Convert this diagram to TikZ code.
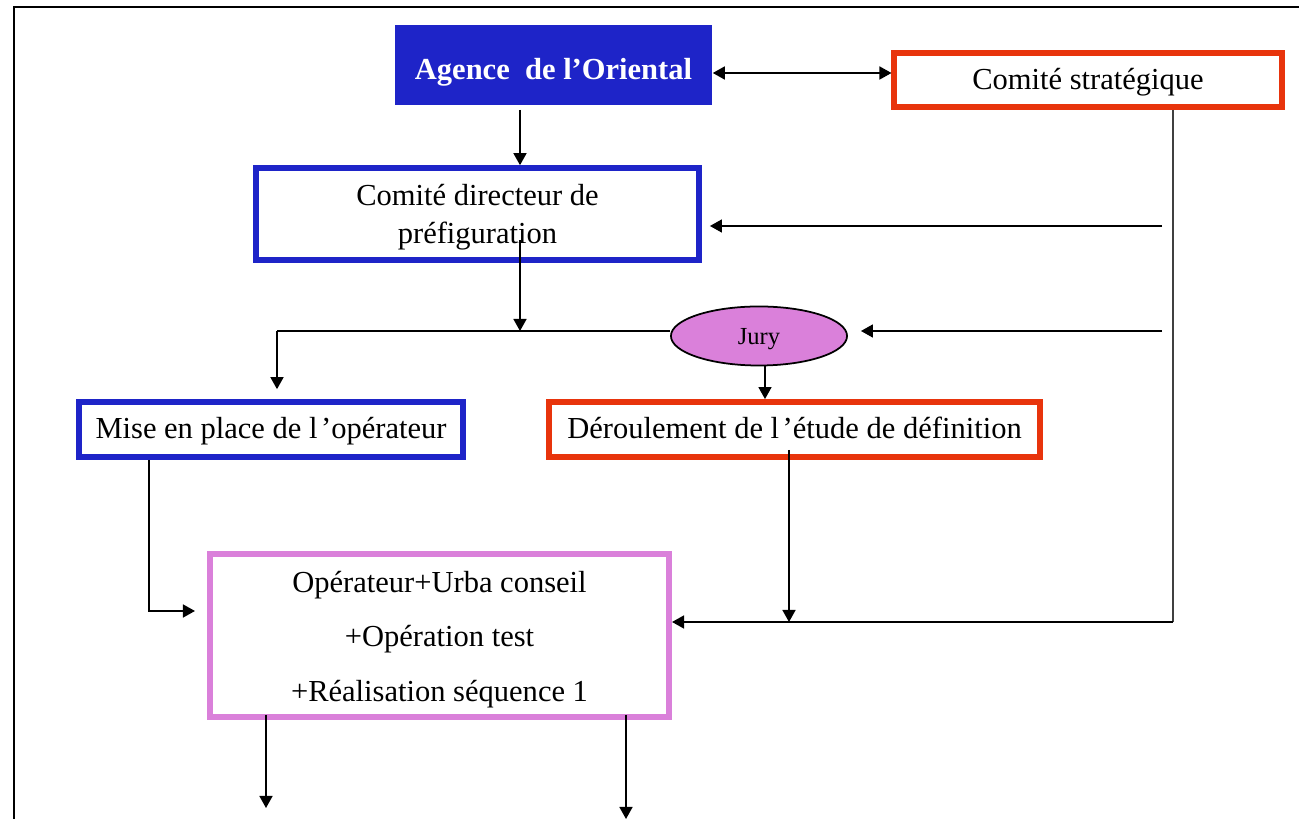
\documentclass[tikz,border=0pt]{standalone}
\usepackage{fontspec}
\setmainfont{Liberation Serif}
\usetikzlibrary{arrows.meta,shapes.geometric}
\definecolor{bblue}{RGB}{30,36,200}
\definecolor{rred}{RGB}{232,52,12}
\definecolor{ppink}{RGB}{218,128,218}
\begin{document}
\begin{tikzpicture}[x=0.01cm,y=-0.01cm,
  txt/.style={font=\fontsize{8.68}{10.8}\selectfont, text=black, align=center, inner sep=0pt},
  oneline/.style={text height=6.4pt, text depth=1pt},
  bbox/.style={txt, draw=bblue, line width=0.056cm, rectangle},
  rbox/.style={txt, draw=rred, line width=0.058cm, rectangle},
  pbox/.style={txt, draw=ppink, line width=0.058cm, rectangle},
  conn/.style={draw=black, line width=0.45pt},
  arr/.style={conn, -{Triangle[length=0.12cm,width=0.13cm]}},
  darr/.style={conn, {Triangle[length=0.12cm,width=0.13cm]}-{Triangle[length=0.12cm,width=0.13cm]}}
]
\useasboundingbox (0,0) rectangle (1299,819);
\draw[line width=0.8pt, black] (14,819) -- (14,7) -- (1299,7);

% nodes
\node[txt, fill=bblue, minimum width=3.17cm, minimum height=0.80cm, text=white,
      text height=9.5pt, text depth=1pt,
      font=\fontsize{8.68}{10.8}\selectfont\bfseries] (agence) at (553.5,65) {Agence\ \ de l’Oriental};
\node[rbox, oneline, minimum width=3.87cm, minimum height=0.54cm] (strat) at (1088,80) {Comité stratégique};
\node[bbox, minimum width=4.43cm, minimum height=0.92cm, text height=17.5pt, text depth=0.5pt] (dir) at (477.5,214) {Comité directeur de\\[0pt]préfiguration};
\node[txt, ellipse, fill=ppink, draw=black, line width=0.5pt, minimum width=1.76cm, minimum height=0.59cm,
      text height=5.6pt, text depth=0.5pt,
      font=\fontsize{6.97}{8}\selectfont] (jury) at (759,336) {Jury};
\node[bbox, oneline, minimum width=3.84cm, minimum height=0.55cm] (mise) at (271,429.5) {Mise en place de l\kern1pt’opérateur};
\node[rbox, oneline, minimum width=4.91cm, minimum height=0.55cm] (deroul) at (794.5,429.5) {Déroulement de l\kern1pt’étude de définition};
\node[pbox, minimum width=4.59cm, minimum height=1.63cm, text height=38.2pt, text depth=0.5pt,
      font=\fontsize{8.68}{15.6}\selectfont] (ope) at (439.5,635.5)
  {Opérateur+Urba conseil\\+Opération test\\+Réalisation séquence 1};

% coordinates
\coordinate (aE) at ([yshift=-0.08cm]agence.east);
\coordinate (c1) at (520,110);
\coordinate (c2) at (520,240);
\coordinate (h) at (277,331);
\coordinate (jn) at (520,331);
\coordinate (j2) at (765,366);
\coordinate (s1) at (1173,110);
\coordinate (s2) at (1173,622);
\coordinate (r1) at (1162,226);
\coordinate (r2) at (1162,331);
\coordinate (d1) at (789,450);
\coordinate (m0) at (149,460);
\coordinate (m1) at (149,611);
\coordinate (b1) at (266,715);
\coordinate (b1e) at (266,808);
\coordinate (b2) at (626,715);
\coordinate (b2e) at (626,819);

% connectors
\draw[darr] (aE) -- (aE -| strat.west);
\draw[arr] (c1) -- (c1 |- dir.north);
\draw[arr] (c2) -- (jn);
\draw[conn] (h) -- (h -| jury.west);
\draw[arr, shorten >=0.1cm] (h) -- (h |- mise.north);
\draw[arr] (j2) -- (j2 |- deroul.north);
\draw[conn, line width=0.6pt, black!75] (s1) -- (s2);
\draw[arr] (s2) -- (s2 -| ope.east);
\draw[arr, shorten >=0.08cm] (r1) -- (r1 -| dir.east);
\draw[arr, shorten >=0.13cm] (r2) -- (r2 -| jury.east);
\draw[arr] (d1) -- (d1 |- s2);
\draw[arr, shorten >=0.12cm] (m0) -- (m1) -- (m1 -| ope.west);
\draw[arr] (b1) -- (b1e);
\draw[arr] (b2) -- (b2e);
\end{tikzpicture}
\end{document}
